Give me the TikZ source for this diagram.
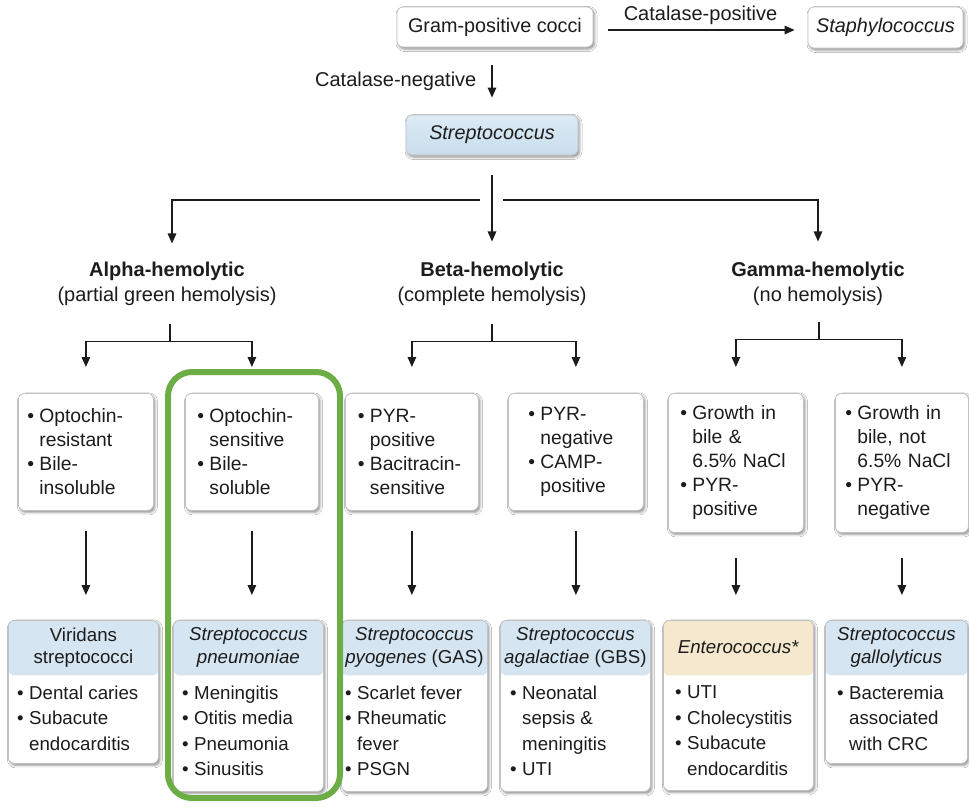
\documentclass[tikz,border=0pt]{standalone}
\usepackage{fontspec}
\setmainfont{Liberation Sans}
\usetikzlibrary{arrows.meta,shadows.blur}

\definecolor{hdrblue}{HTML}{D5E6F2}
\definecolor{hdrtan}{HTML}{F5E8CE}
\definecolor{bordergray}{HTML}{C2C2C2}
\definecolor{ink}{HTML}{1C1C1C}
\definecolor{hlgreen}{HTML}{6DAD46}
\definecolor{streptop}{HTML}{DCEBF6}
\definecolor{strepbot}{HTML}{C8DDEC}

\newcommand\bu{\makebox[12pt][l]{•}}
\newcommand\ind{\hspace*{12pt}}

\tikzset{
  box/.style={draw=bordergray, line width=0.8pt, fill=white, rounded corners=6pt,
    blur shadow={shadow xshift=1.5pt, shadow yshift=-2pt, shadow blur radius=2.5pt, shadow opacity=45}},
  topbox/.style={box, align=left, inner ysep=0pt, minimum height=117pt, anchor=north west,
    font=\fontsize{19.3}{24}\selectfont, text=ink},
  botbox/.style={box, anchor=north west, inner sep=0pt,
    path picture={\fill[#1] (path picture bounding box.north west) rectangle ([yshift=-55pt]path picture bounding box.north east);}},
  hdr/.style={align=center, inner sep=0pt, font=\fontsize{18.7}{22.5}\selectfont, text=ink},
  body/.style={align=left, inner sep=0pt, anchor=north west, font=\fontsize{18.7}{25.5}\selectfont, text=ink},
  hemo/.style={align=center, inner sep=0pt, font=\fontsize{20}{25}\selectfont, text=ink},
  lbl/.style={inner sep=0pt, font=\fontsize{20}{24}\selectfont, text=ink},
  line/.style={draw=ink, line width=1.3pt},
  arr/.style={line, -{Triangle[length=10pt,width=8.5pt]}},
}

\begin{document}
\begin{tikzpicture}[x=1pt,y=-1pt]
\useasboundingbox[fill=white] (0,0) rectangle (969,807);

% top row
\node[box, minimum width=196pt, minimum height=40pt, inner sep=0pt, font=\fontsize{19.8}{24}\selectfont, text=ink] (gram) at (495,27) {Gram-positive cocci};
\node[box, minimum width=155pt, minimum height=41pt, inner sep=0pt, font=\fontsize{19.8}{24}\selectfont, text=ink] (staph) at (885.5,27.5) {\textit{Staphylococcus}};
\node[box, top color=streptop, bottom color=strepbot, minimum width=172pt, minimum height=40pt, inner sep=0pt, font=\fontsize{19.8}{24}\selectfont, text=ink] (strep) at (492,135) {\textit{Streptococcus}};

\draw[arr, shorten <=15pt, shorten >=13pt] ([yshift=-3pt]gram.east) -- ([yshift=-3pt]gram.east -| staph.west)
  node[lbl, midway, yshift=15pt] (cpos) {Catalase-positive};
\draw[arr, shorten <=18pt, shorten >=17pt] (gram.south -| strep.north) -- (strep.north)
  node[lbl, midway, anchor=east, xshift=-15pt] (cneg) {Catalase-negative};

% hemolysis groups
\node[hemo] (alpha) at (167,283.5) {\textbf{Alpha-hemolytic}\\(partial green hemolysis)};
\node[hemo] (beta) at (492,283.5) {\textbf{Beta-hemolytic}\\(complete hemolysis)};
\node[hemo] (gamma) at (818,283.5) {\textbf{Gamma-hemolytic}\\(no hemolysis)};

\coordinate (hj) at (492,200);
\draw[arr, shorten <=20pt, shorten >=20pt] (strep.south) -- (strep.south |- beta.north);
\draw[arr, shorten >=18pt] ([xshift=-12pt]hj) -| ([xshift=5pt]alpha.north);
\draw[arr, shorten >=20pt] ([xshift=11pt]hj) -| (gamma.north);

% second-level boxes
\node[topbox, text width=117pt, inner xsep=9pt] (t1) at (18,393) {\bu Optochin-\\\ind resistant\\\bu Bile-\\\ind insoluble};
\node[topbox, text width=109pt, inner xsep=12pt] (t2) at (185,393) {\bu Optochin-\\\ind sensitive\\\bu Bile-\\\ind soluble};
\node[topbox, text width=108pt, inner xsep=12.5pt] (t3) at (345,393) {\bu PYR-\\\ind positive\\\bu Bacitracin-\\\ind sensitive};
\node[topbox, text width=95pt, inner xsep=20pt] (t4) at (508,393) {\bu PYR-\\\ind negative\\\bu CAMP-\\\ind positive};
\node[topbox, text width=111pt, inner xsep=12pt, minimum height=139pt] (t5) at (668,393) {\bu Growth in\\\ind bile \&\\\ind 6.5\% NaCl\\\bu PYR-\\\ind positive};
\node[topbox, text width=113pt, inner xsep=10pt, minimum height=139pt] (t6) at (835,393) {\bu Growth in\\\ind bile, not\\\ind 6.5\% NaCl\\\bu PYR-\\\ind negative};

% split connectors
\path (alpha.south) ++(3,36) coordinate (aj);
\path (beta.south) ++(0,36) coordinate (bj);
\path (gamma.south) ++(1,34) coordinate (gj);
\draw[line, shorten <=18pt] (aj |- alpha.south) -- (aj);
\draw[line, shorten <=18pt] (beta.south) -- (bj);
\draw[line, shorten <=16pt] (gj |- gamma.south) -- (gj);
\draw[arr, shorten >=26pt] (aj) -| (t1.north);
\draw[arr, shorten >=26pt] (aj) -| (t2.north);
\draw[arr, shorten >=26pt] (bj) -| (t3.north);
\draw[arr, shorten >=26pt] (bj) -| (t4.north);
\draw[arr, shorten >=26pt] (gj) -| (t5.north);
\draw[arr, shorten >=26pt] (gj) -| (t6.north);

% bottom boxes
\node[botbox=hdrblue, minimum width=150pt, minimum height=143pt] (b1) at (8,620) {};
\node[botbox=hdrblue, minimum width=150pt, minimum height=171pt] (b2) at (173,620) {};
\node[botbox=hdrblue, minimum width=146pt, minimum height=171pt] (b3) at (341,620) {};
\node[botbox=hdrblue, minimum width=150pt, minimum height=171pt] (b4) at (500,620) {};
\node[botbox=hdrtan, minimum width=150pt, minimum height=170pt] (b5) at (663,620) {};
\node[botbox=hdrblue, minimum width=142pt, minimum height=143pt] (b6) at (825,620) {};

\node[hdr] (b1h) at ([yshift=-27.5pt]b1.north) {Viridans\\streptococci};
\node[hdr] (b2h) at ([yshift=-27.5pt]b2.north) {\textit{Streptococcus}\\\textit{pneumoniae}};
\node[hdr] (b3h) at ([yshift=-27.5pt]b3.north) {\textit{Streptococcus}\\\textit{pyogenes} (GAS)};
\node[hdr] (b4h) at ([yshift=-27.5pt]b4.north) {\textit{Streptococcus}\\\textit{agalactiae} (GBS)};
\node[hdr] (b5h) at ([yshift=-27.5pt]b5.north) {\textit{Enterococcus*}};
\node[hdr] (b6h) at ([yshift=-27.5pt]b6.north) {\textit{Streptococcus}\\\textit{gallolyticus}};

\node[body] (b1t) at ([xshift=9pt,yshift=-65.5pt]b1.north west) {\bu Dental caries\\\bu Subacute\\\ind endocarditis};
\node[body] (b2t) at ([xshift=9pt,yshift=-65.5pt]b2.north west) {\bu Meningitis\\\bu Otitis media\\\bu Pneumonia\\\bu Sinusitis};
\node[body] (b3t) at ([xshift=4pt,yshift=-65.5pt]b3.north west) {\bu Scarlet fever\\\bu Rheumatic\\\ind fever\\\bu PSGN};
\node[body] (b4t) at ([xshift=10pt,yshift=-65.5pt]b4.north west) {\bu Neonatal\\\ind sepsis \&\\\ind meningitis\\\bu UTI};
\node[body] (b5t) at ([xshift=12pt,yshift=-65.5pt]b5.north west) {\bu UTI\\\bu Cholecystitis\\\bu Subacute\\\ind endocarditis};
\node[body] (b6t) at ([xshift=12pt,yshift=-65.5pt]b6.north west) {\bu Bacteremia\\\ind associated\\\ind with CRC};

% vertical arrows to bottom boxes
\draw[arr, shorten <=20pt, shorten >=25pt] (t1.south) -- (t1.south |- b1.north);
\draw[arr, shorten <=20pt, shorten >=25pt] (t2.south) -- (t2.south |- b2.north);
\draw[arr, shorten <=20pt, shorten >=25pt] (t3.south) -- (t3.south |- b3.north);
\draw[arr, shorten <=20pt, shorten >=25pt] (t4.south) -- (t4.south |- b4.north);
\draw[arr, shorten <=25pt, shorten >=25pt] (t5.south) -- (t5.south |- b5.north);
\draw[arr, shorten <=25pt, shorten >=25pt] (t6.south) -- (t6.south |- b6.north);

% highlight frame
\node[draw=hlgreen, line width=6pt, rounded corners=24pt, minimum width=172pt, minimum height=426pt,
  anchor=north west, inner sep=0pt, outer sep=0pt] (hl) at (168,372) {};
\end{tikzpicture}
\end{document}
